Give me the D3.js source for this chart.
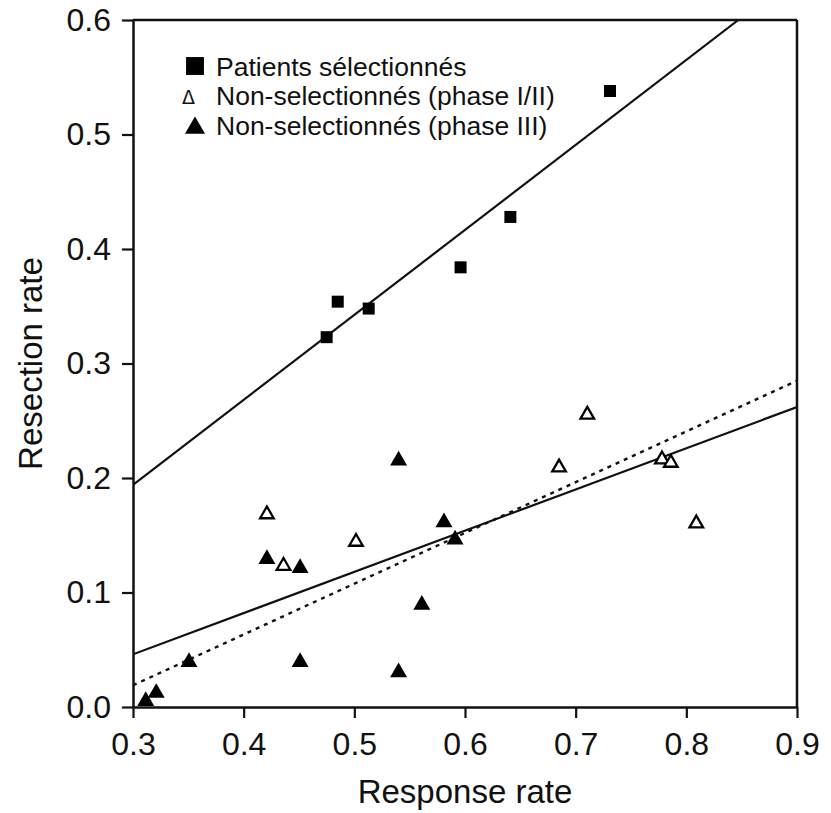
<!DOCTYPE html>
<html>
<head>
<meta charset="utf-8">
<script src="https://cdn.jsdelivr.net/npm/d3@7"></script>
<style>
  html, body { margin: 0; padding: 0; background: #fff; }
  svg { display: block; }
  text { font-family: "Liberation Sans", Arial, sans-serif; fill: #111; }
</style>
</head>
<body>
<svg id="chart" width="831" height="813"></svg>
<script>
// ---- Data ----
const selectedX = [0.475, 0.485, 0.513, 0.596, 0.641, 0.731];
const selectedY = [0.323, 0.354, 0.348, 0.384, 0.428, 0.538];

const phase12X = [0.421, 0.436, 0.5015, 0.685, 0.7105, 0.778, 0.786, 0.809];
const phase12Y = [0.170, 0.125, 0.146, 0.211, 0.257, 0.218, 0.215, 0.162];

const phase3X = [0.3115, 0.321, 0.3506, 0.421, 0.451, 0.451, 0.540, 0.540, 0.561, 0.581, 0.591];
const phase3Y = [0.007, 0.014, 0.041, 0.131, 0.123, 0.041, 0.217, 0.032, 0.091, 0.163, 0.148];

// regression lines (endpoints)
const fitSelectedX = [0.3, 0.847];
const fitSelectedY = [0.194, 0.6];
const fitNonSelX = [0.3, 0.9];
const fitNonSelY = [0.046, 0.262];
const fitDottedX = [0.3, 0.9];
const fitDottedY = [0.019, 0.285];

const xTicks = [0.3, 0.4, 0.5, 0.6, 0.7, 0.8, 0.9];
const yTicks = [0.0, 0.1, 0.2, 0.3, 0.4, 0.5, 0.6];

const legendLabels = ["Patients sélectionnés", "Non-selectionnés (phase I/II)", "Non-selectionnés (phase III)"];
const xTitle = "Response rate";
const yTitle = "Resection rate";

// ---- Layout ----
const svg = d3.select("#chart");
const mLeft = 133, mRight = 797, mTop = 20, mBottom = 707;

const x = d3.scaleLinear().domain([0.3, 0.9]).range([mLeft, mRight]);
const y = d3.scaleLinear().domain([0, 0.6]).range([mBottom, mTop]);

// clip
svg.append("clipPath").attr("id", "plotclip")
  .append("rect").attr("x", mLeft).attr("y", mTop).attr("width", mRight - mLeft).attr("height", mBottom - mTop);

// ---- Axes ----
const xAxis = d3.axisBottom(x).tickValues(xTicks).tickFormat(d3.format(".1f")).tickSizeInner(11).tickSizeOuter(0).tickPadding(14);
const yAxis = d3.axisLeft(y).tickValues(yTicks).tickFormat(d3.format(".1f")).tickSizeInner(11).tickSizeOuter(0).tickPadding(11);

const gx = svg.append("g").attr("transform", `translate(0,${mBottom})`).call(xAxis);
const gy = svg.append("g").attr("transform", `translate(${mLeft},0)`).call(yAxis);

[gx, gy].forEach(g => {
  g.select(".domain").attr("stroke", "#111").attr("stroke-width", 2.5);
  g.selectAll(".tick line").attr("stroke", "#111").attr("stroke-width", 2.2);
  g.selectAll(".tick text").style("font-size", "32px").attr("fill", "#111")
   .style("font-family", '"Liberation Sans", Arial, sans-serif');
});
gx.selectAll(".tick text").attr("dy", "0.71em");

// top and right frame
svg.append("line").attr("x1", x(0.3)).attr("x2", x(0.9)).attr("y1", y(0.6)).attr("y2", y(0.6))
  .attr("stroke", "#111").attr("stroke-width", 2.5);
svg.append("line").attr("x1", x(0.9)).attr("x2", x(0.9)).attr("y1", y(0.6)).attr("y2", y(0))
  .attr("stroke", "#111").attr("stroke-width", 2.5);

// axis titles
svg.append("text").attr("x", (mLeft + mRight) / 2).attr("y", 803)
  .attr("text-anchor", "middle").style("font-size", "33px").text(xTitle);
svg.append("text").attr("transform", `translate(42,${(mTop + mBottom) / 2}) rotate(-90)`)
  .attr("text-anchor", "middle").style("font-size", "33px").text(yTitle);

// ---- Lines ----
const lineGen = d3.line().x(d => x(d[0])).y(d => y(d[1]));
const lg = svg.append("g").attr("clip-path", "url(#plotclip)");
lg.append("path").datum(d3.zip(fitSelectedX, fitSelectedY)).attr("d", lineGen)
  .attr("fill", "none").attr("stroke", "#111").attr("stroke-width", 2.2);
lg.append("path").datum(d3.zip(fitNonSelX, fitNonSelY)).attr("d", lineGen)
  .attr("fill", "none").attr("stroke", "#111").attr("stroke-width", 2.2);
lg.append("path").datum(d3.zip(fitDottedX, fitDottedY)).attr("d", lineGen)
  .attr("fill", "none").attr("stroke", "#111").attr("stroke-width", 2.4).attr("stroke-dasharray", "4,5");

// ---- Points ----
const sq = d3.symbol().type(d3.symbolSquare).size(144);
const triFilled = d3.symbol().type(d3.symbolTriangle).size(125);
const triOpen = d3.symbol().type(d3.symbolTriangle).size(80);

svg.append("g").selectAll("path").data(d3.zip(selectedX, selectedY)).join("path")
  .attr("d", sq).attr("transform", d => `translate(${x(d[0])},${y(d[1])})`).attr("fill", "#000");

svg.append("g").selectAll("path").data(d3.zip(phase12X, phase12Y)).join("path")
  .attr("d", triOpen).attr("transform", d => `translate(${x(d[0])},${y(d[1]) + 2})`)
  .attr("fill", "#fff").attr("stroke", "#000").attr("stroke-width", 2.3);

svg.append("g").selectAll("path").data(d3.zip(phase3X, phase3Y)).join("path")
  .attr("d", triFilled).attr("transform", d => `translate(${x(d[0])},${y(d[1]) + 2})`).attr("fill", "#000");

// ---- Legend ----
const leg = svg.append("g");
const rowsY = [76, 105, 135];
leg.append("path").attr("d", d3.symbol().type(d3.symbolSquare).size(320))
  .attr("transform", `translate(195,${rowsY[0] - 10})`).attr("fill", "#000");
leg.append("text").attr("x", 182).attr("y", rowsY[1] - 1)
  .style("font-family", '"DejaVu Sans", sans-serif').style("font-size", "19px").text("Δ");
leg.append("path").attr("d", d3.symbol().type(d3.symbolTriangle).size(175))
  .attr("transform", `translate(195,${rowsY[2] - 7})`).attr("fill", "#000");
legendLabels.forEach((t, i) => {
  leg.append("text").attr("x", 216).attr("y", rowsY[i]).style("font-size", "26.5px").text(t);
});
</script>
</body>
</html>
